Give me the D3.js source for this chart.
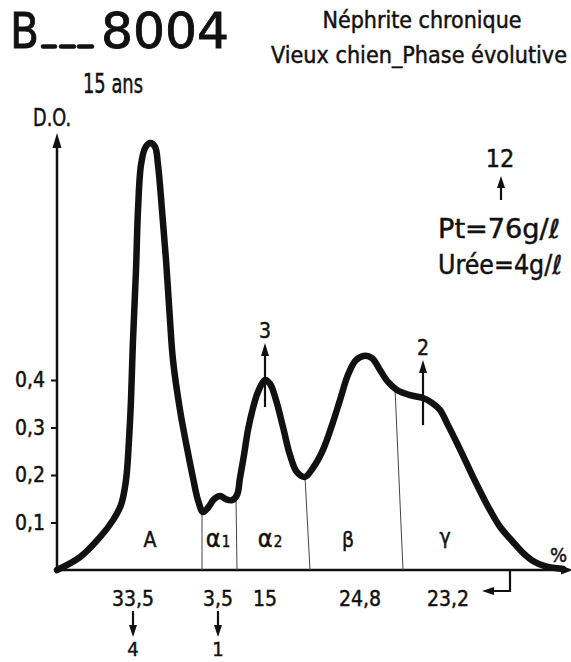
<!DOCTYPE html>
<html>
<head>
<meta charset="utf-8">
<script src="https://cdn.jsdelivr.net/npm/d3@7"></script>
<style>
  html, body { margin: 0; padding: 0; background: #fff; }
  svg { display: block; }
  text { font-family: 'DejaVu Sans Condensed', 'DejaVu Sans', sans-serif; fill: #111;
         stroke: #111; stroke-width: 0.45px; }
</style>
</head>
<body>
<svg id="chart" width="571" height="662"></svg>
<script>
// Densitometric scan of the serum electrophoresis strip (D.O. against migration)
const profileMobility = [0, 4.6, 8.6, 11.2, 12.8, 13.8, 14.4, 14.8, 15.2, 15.8,
  16.2, 16.8, 17.6, 18.6, 19.6, 20.2, 21.0, 21.8, 22.6, 23.2,
  24.6, 26.0, 27.2, 28.2, 29.2, 30.2, 31.4, 32.6, 33.8, 35.0,
  36.0, 36.6, 37.4, 38.2, 39.2, 40.2, 41.6, 42.6, 43.8, 45.2,
  46.6, 48.0, 49.6, 51.2, 53.2, 55.0, 56.6, 58.2, 59.8, 61.6,
  63.0, 64.6, 66.2, 68.0, 70.6, 73.2, 75.0, 76.6, 78.2, 80.0,
  81.6, 83.2, 85.0, 86.6, 88.6, 91.2, 93.2, 95.2, 97.6, 101.2];
const profileDO = [0, 0.027, 0.069, 0.105, 0.137, 0.189, 0.274, 0.358, 0.484, 0.632,
  0.758, 0.853, 0.888, 0.899, 0.891, 0.853, 0.758, 0.653, 0.526, 0.442,
  0.337, 0.257, 0.194, 0.147, 0.122, 0.131, 0.149, 0.156, 0.149, 0.147,
  0.158, 0.194, 0.242, 0.295, 0.341, 0.375, 0.400, 0.392, 0.358, 0.301,
  0.242, 0.206, 0.196, 0.215, 0.253, 0.305, 0.358, 0.411, 0.442, 0.451,
  0.446, 0.421, 0.396, 0.379, 0.368, 0.362, 0.352, 0.337, 0.305, 0.267,
  0.232, 0.196, 0.158, 0.126, 0.091, 0.059, 0.036, 0.019, 0.008, 0.002];

// Protein fractions
const fractionNames = ["A", "α", "α", "β", "γ"];
const fractionIndex = ["", "1", "2", "", ""];
const fractionLabelAt = [18.6, 32.2, 42.6, 58.2, 77.6];
const fractionPercent = [33.5, 3.5, 15, 24.8, 23.2];
const percentLabelAt = [15.2, 32.2, 41.6, 60.6, 78.2];
// Cut lines between fractions (top on the curve, foot on the baseline)
const boundaryTop = [29.0, 35.8, 49.6, 67.6];
const boundaryFoot = [29.0, 36.0, 50.6, 69.2];

const yTicks = [0.1, 0.2, 0.3, 0.4];

// Band counts marked on the scan
const peakMarkAt = [41.6, 73.2];
const peakMarkLabel = ["3", "2"];
const peakMarkFrom = [0.343, 0.305];
const peakMarkTo = [0.478, 0.442];
const bandCountAt = [15.2, 32.2];
const bandCountLabel = ["4", "1"];

const svg = d3.select("#chart");
const x = d3.scaleLinear().domain([0, 100]).range([57, 557]);
const y = d3.scaleLinear().domain([0, 0.4]).range([570, 380]);
const fr = d3.formatLocale({ decimal: ",", thousands: " ", grouping: [3], currency: ["", ""] });
const comma = v => String(v).replace(".", ",");

function arrowHead(g, px, py, dir, len = 13, half = 4.5) {
  let pts;
  if (dir === "up") pts = [[px, py], [px - half, py + len], [px + half, py + len]];
  if (dir === "down") pts = [[px, py], [px - half, py - len], [px + half, py - len]];
  if (dir === "left") pts = [[px, py], [px + len, py - half], [px + len, py + half]];
  if (dir === "right") pts = [[px, py], [px - len, py - half], [px - len, py + half]];
  g.append("path").attr("d", "M" + pts.join("L") + "Z").attr("fill", "#111");
}

function fitted(g, tx, ty, size, len, str) {
  return g.append("text").attr("x", tx).attr("y", ty).attr("font-size", size)
    .attr("textLength", len).attr("lengthAdjust", "spacingAndGlyphs").text(str);
}

// Headings
fitted(svg, 10, 48, 50, 29, "B").style("stroke-width", "0.8px");
[[43, 55], [61, 74], [79, 92]].forEach(([a, b]) => {
  svg.append("line").attr("x1", a).attr("x2", b).attr("y1", 46.5).attr("y2", 46.5)
    .attr("stroke", "#111").attr("stroke-width", 4.5).attr("stroke-linecap", "round");
});
fitted(svg, 101, 48, 50, 128, "8004").style("stroke-width", "0.8px");
fitted(svg, 83, 93, 27, 60, "15 ans");
fitted(svg, 33, 126, 24, 38, "D.O.");
svg.append("text").attr("x", 422).attr("y", 28).attr("text-anchor", "middle")
  .attr("font-size", 23).text("Néphrite chronique");
fitted(svg, 271, 63, 23.5, 296, "Vieux chien_Phase évolutive");

// Serum values
svg.append("text").attr("x", 500).attr("y", 167).attr("text-anchor", "middle")
  .attr("font-size", 25).text("12");
svg.append("line").attr("x1", 501).attr("x2", 501).attr("y1", 200).attr("y2", 186)
  .attr("stroke", "#111").attr("stroke-width", 2.2);
arrowHead(svg, 501, 176, "up", 12, 4);
fitted(svg, 438, 238, 26, 122, "Pt=76g/ℓ");
fitted(svg, 438, 274, 26, 124, "Urée=4g/ℓ");

// Axes
const axisG = svg.append("g");
axisG.append("line").attr("x1", 57).attr("x2", 57).attr("y1", 571).attr("y2", 145)
  .attr("stroke", "#111").attr("stroke-width", 2.5);
arrowHead(axisG, 57, 133, "up", 15, 4.5);
axisG.append("line").attr("x1", 56).attr("x2", 562).attr("y1", 570).attr("y2", 570)
  .attr("stroke", "#111").attr("stroke-width", 2.5);
arrowHead(axisG, 573, 570, "right", 12, 4.5);

const yAxis = svg.append("g").attr("transform", "translate(57,0)")
  .call(d3.axisLeft(y).tickValues(yTicks).tickSize(6).tickPadding(6).tickFormat(fr.format(".1f")));
yAxis.select(".domain").remove();
yAxis.selectAll(".tick line").attr("stroke", "#111").attr("stroke-width", 2);
yAxis.selectAll(".tick text").attr("font-size", 21).attr("fill", "#111")
  .attr("font-family", "'DejaVu Sans Condensed','DejaVu Sans',sans-serif");

// Cut lines
const doAt = m => {
  const i = d3.bisectLeft(profileMobility, m);
  if (i <= 0) return profileDO[0];
  const m0 = profileMobility[i - 1], m1 = profileMobility[i];
  const t = (m - m0) / (m1 - m0);
  return profileDO[i - 1] + t * (profileDO[i] - profileDO[i - 1]);
};
svg.append("g").selectAll("line").data(boundaryTop).join("line")
  .attr("x1", d => x(d)).attr("y1", d => y(doAt(d)))
  .attr("x2", (d, i) => x(boundaryFoot[i])).attr("y2", y(0))
  .attr("stroke", "#444").attr("stroke-width", 1);

// Profile
const profile = profileMobility.map((m, i) => [m, profileDO[i]]);
svg.append("path").datum(profile)
  .attr("d", d3.line().x(d => x(d[0])).y(d => y(d[1])).curve(d3.curveCatmullRom.alpha(0.5)))
  .attr("fill", "none").attr("stroke", "#111").attr("stroke-width", 6.5)
  .attr("stroke-linejoin", "round").attr("stroke-linecap", "round");

// Fraction names
const names = svg.append("g").selectAll("text").data(fractionNames).join("text")
  .attr("x", (d, i) => x(fractionLabelAt[i])).attr("y", (d, i) => d === "γ" ? 544 : 547)
  .attr("text-anchor", "middle").attr("font-size", (d) => d === "α" ? 25 : 21);
names.append("tspan").text(d => d);
names.append("tspan").attr("font-size", 15).attr("dx", 1).text((d, i) => fractionIndex[i]);

// Percentages
svg.append("g").selectAll("text").data(fractionPercent).join("text")
  .attr("x", (d, i) => x(percentLabelAt[i])).attr("y", 606)
  .attr("text-anchor", "middle").attr("font-size", 21).text(d => comma(d));

// Gamma bracket
svg.append("path")
  .attr("d", `M${x(90.6)},${y(0)}V591H${x(85.0) + 10}`)
  .attr("fill", "none").attr("stroke", "#111").attr("stroke-width", 2.2);
arrowHead(svg, x(85.0), 591, "left", 12, 4);

// Band counts under the axis
bandCountAt.forEach((m, i) => {
  svg.append("line").attr("x1", x(m)).attr("x2", x(m)).attr("y1", 611).attr("y2", 626)
    .attr("stroke", "#111").attr("stroke-width", 2.2);
  arrowHead(svg, x(m), 637, "down", 12, 4);
  svg.append("text").attr("x", x(m)).attr("y", 656).attr("text-anchor", "middle")
    .attr("font-size", 20).text(bandCountLabel[i]);
});

// Band counts on the peaks
peakMarkAt.forEach((m, i) => {
  svg.append("line").attr("x1", x(m)).attr("x2", x(m))
    .attr("y1", y(peakMarkFrom[i])).attr("y2", y(peakMarkTo[i]) + 10)
    .attr("stroke", "#111").attr("stroke-width", 2.2);
  arrowHead(svg, x(m), y(peakMarkTo[i]), "up", 13, 4);
  svg.append("text").attr("x", x(m)).attr("y", y(peakMarkTo[i]) - 5).attr("text-anchor", "middle")
    .attr("font-size", 21).text(peakMarkLabel[i]);
});

// Percent sign at the end of the migration axis
svg.append("text").attr("x", 550).attr("y", 562).attr("font-size", 20).text("%");
</script>
</body>
</html>
